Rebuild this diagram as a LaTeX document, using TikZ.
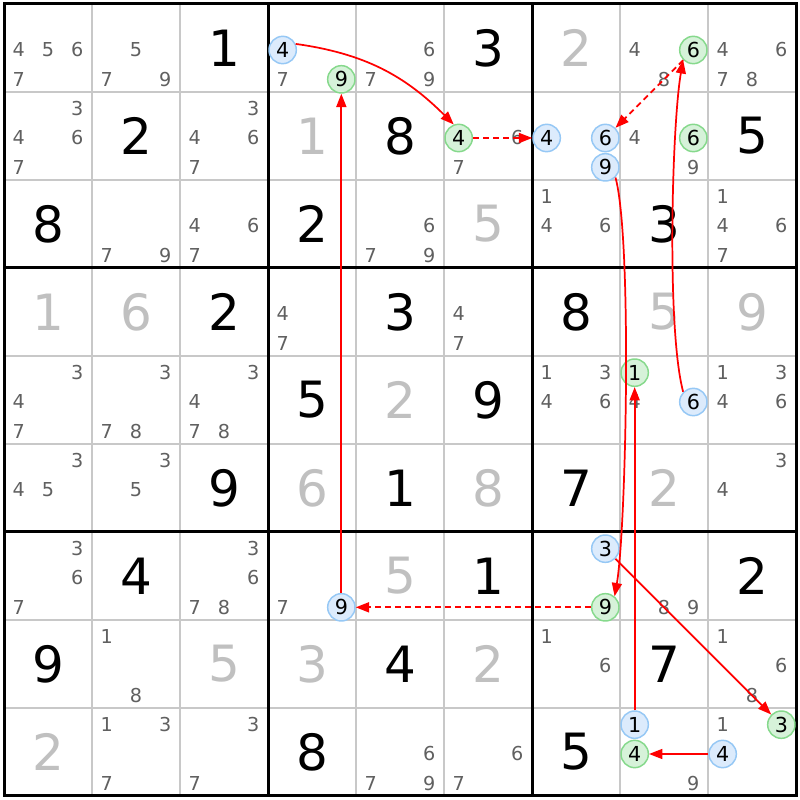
\documentclass[tikz,border=0pt]{standalone}
\usepackage{fontspec}
\setmainfont{DejaVu Sans}
\usetikzlibrary{arrows.meta}

\definecolor{solvedgray}{HTML}{C0C0C0}
\definecolor{candgray}{HTML}{606060}
\definecolor{gridgray}{HTML}{C8C8C8}
\definecolor{onfill}{HTML}{DCEBFC}
\definecolor{onedge}{HTML}{96C8F5}
\definecolor{offfill}{HTML}{D6F2D9}
\definecolor{offedge}{HTML}{86D98C}

\tikzset{
  bigdigit/.style={font=\fontsize{37.5pt}{37.5pt}\selectfont, inner sep=0pt},
  givendigit/.style={bigdigit, text=black},
  solveddigit/.style={bigdigit, text=solvedgray},
  candidate/.style={font=\fontsize{14.4pt}{14.4pt}\selectfont, inner sep=0pt, text=candgray},
  oncand/.style={candidate, circle, font=\fontsize{15.5pt}{15.5pt}\selectfont, text=black,
    draw=onedge, fill=onfill, line width=1.1pt, minimum size=20.5pt},
  offcand/.style={oncand, draw=offedge, fill=offfill},
  link/.style={red, line width=1.3pt, -{Triangle[length=10pt,width=7.5pt]}},
  weaklink/.style={link, dash pattern=on 4.5pt off 3pt},
}

% cell centre and candidate spot, in pixels of the board
\newcommand\cellat[2]{({88*#2-40},{840-88*#1})}
\newcommand\candat[3]{({88*#2-40+29.333*(mod(#3-1,3)-1)},{838-88*#1-29.333*(div(#3-1,3)-1)})}
\newcommand\givendig[3]{\node[givendigit] (r#1c#2) at \cellat{#1}{#2} {#3};}
\newcommand\solveddig[3]{\node[solveddigit] (r#1c#2) at \cellat{#1}{#2} {#3};}
\newcommand\cands[3]{\foreach \dg in {#3} {\node[candidate] (r#1c#2n\dg) at \candat{#1}{#2}{\dg} {\dg};}}
\newcommand\oncand[3]{\node[oncand] (r#1c#2n#3) at \candat{#1}{#2}{#3} {#3};}
\newcommand\offcand[3]{\node[offcand] (r#1c#2n#3) at \candat{#1}{#2}{#3} {#3};}

\begin{document}
\begin{tikzpicture}[x=0.75pt, y=0.75pt]
  \fill[white] (0,0) rectangle (800,800);
  \useasboundingbox (0,0) rectangle (800,800);

  % grid
  \foreach \i in {1,...,8} {
    \draw[gridgray, line width=0.9pt] ({4+88*\i},4) -- ({4+88*\i},796);
    \draw[gridgray, line width=0.9pt] (4,{4+88*\i}) -- (796,{4+88*\i});
  }
  \foreach \i in {3,6} {
    \draw[line width=2.25pt] ({4+88*\i},4) -- ({4+88*\i},796);
    \draw[line width=2.25pt] (4,{4+88*\i}) -- (796,{4+88*\i});
  }
  \draw[line width=2.25pt] (4,4) rectangle (796,796);

  % givens
  \givendig{1}{3}{1} \givendig{1}{6}{3}
  \givendig{2}{2}{2} \givendig{2}{5}{8} \givendig{2}{9}{5}
  \givendig{3}{1}{8} \givendig{3}{4}{2} \givendig{3}{8}{3}
  \givendig{4}{3}{2} \givendig{4}{5}{3} \givendig{4}{7}{8}
  \givendig{5}{4}{5} \givendig{5}{6}{9}
  \givendig{6}{3}{9} \givendig{6}{5}{1} \givendig{6}{7}{7}
  \givendig{7}{2}{4} \givendig{7}{6}{1} \givendig{7}{9}{2}
  \givendig{8}{1}{9} \givendig{8}{5}{4} \givendig{8}{8}{7}
  \givendig{9}{4}{8} \givendig{9}{7}{5}

  % solved
  \solveddig{1}{7}{2} \solveddig{2}{4}{1} \solveddig{3}{6}{5}
  \solveddig{4}{1}{1} \solveddig{4}{2}{6} \solveddig{4}{8}{5} \solveddig{4}{9}{9}
  \solveddig{5}{5}{2}
  \solveddig{6}{4}{6} \solveddig{6}{6}{8} \solveddig{6}{8}{2}
  \solveddig{7}{5}{5}
  \solveddig{8}{3}{5} \solveddig{8}{4}{3} \solveddig{8}{6}{2}
  \solveddig{9}{1}{2}

  % candidates
  \cands{1}{1}{4,5,6,7} \cands{1}{2}{5,7,9} \cands{1}{4}{7} \cands{1}{5}{6,7,9}
  \cands{1}{8}{4,8} \cands{1}{9}{4,6,7,8}
  \cands{2}{1}{3,4,6,7} \cands{2}{3}{3,4,6,7} \cands{2}{6}{6,7} \cands{2}{8}{4,9}
  \cands{3}{2}{7,9} \cands{3}{3}{4,6,7} \cands{3}{5}{6,7,9} \cands{3}{7}{1,4,6}
  \cands{3}{9}{1,4,6,7}
  \cands{4}{4}{4,7} \cands{4}{6}{4,7}
  \cands{5}{1}{3,4,7} \cands{5}{2}{3,7,8} \cands{5}{3}{3,4,7,8} \cands{5}{7}{1,3,4,6}
  \cands{5}{8}{4} \cands{5}{9}{1,3,4,6}
  \cands{6}{1}{3,4,5} \cands{6}{2}{3,5} \cands{6}{9}{3,4}
  \cands{7}{1}{3,6,7} \cands{7}{3}{3,6,7,8} \cands{7}{4}{7} \cands{7}{8}{8,9}
  \cands{8}{2}{1,8} \cands{8}{7}{1,6} \cands{8}{9}{1,6,8}
  \cands{9}{2}{1,3,7} \cands{9}{3}{3,7} \cands{9}{5}{6,7,9} \cands{9}{6}{6,7}
  \cands{9}{8}{9} \cands{9}{9}{1}

  % marked candidates
  \oncand{1}{4}{4} \offcand{1}{4}{9}
  \offcand{1}{8}{6}
  \offcand{2}{6}{4}
  \oncand{2}{7}{4} \oncand{2}{7}{6} \oncand{2}{7}{9}
  \offcand{2}{8}{6}
  \offcand{5}{8}{1} \oncand{5}{8}{6}
  \oncand{7}{4}{9}
  \oncand{7}{7}{3} \offcand{7}{7}{9}
  \offcand{9}{9}{3} \oncand{9}{9}{4}
  \oncand{9}{8}{1} \offcand{9}{8}{4}

  % chain
  \draw[link] (r1c4n4.25) to[out=-8,in=135] (r2c6n4.110);
  \draw[weaklink] (r2c6n4) -- (r2c7n4);
  \draw[link] (r7c4n9) -- (r1c4n9);
  \draw[weaklink] (r7c7n9) -- (r7c4n9);
  \draw[link] (r2c7n9.-45) to[out=-75,in=80,looseness=0.4] (r7c7n9.50);
  \draw[link] (r5c8n6.135) to[out=105,in=-100,looseness=0.5] (r1c8n6.-135);
  \draw[weaklink] (r1c8n6) -- (r2c7n6);
  \draw[link] (r9c8n1) -- (r5c8n1);
  \draw[link] (r7c7n3) -- (r9c9n3);
  \draw[link] (r9c9n4) -- (r9c8n4);
\end{tikzpicture}
\end{document}
